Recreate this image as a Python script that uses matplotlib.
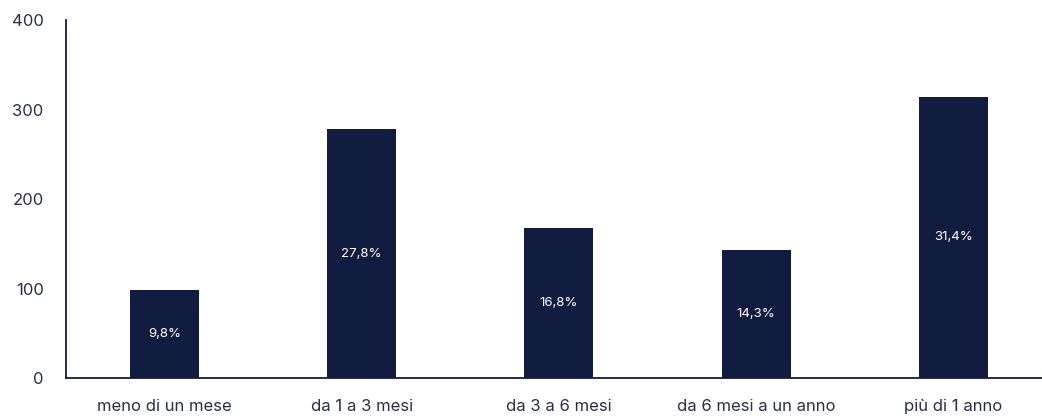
import matplotlib
matplotlib.use('Agg')
import matplotlib.pyplot as plt
import numpy as np

categories = ['meno di un mese', 'da 1 a 3 mesi', 'da 3 a 6 mesi', 'da 6 mesi a un anno', 'più di 1 anno']
values = [98, 278, 168, 143, 314]
pct_labels = ['9,8%', '27,8%', '16,8%', '14,3%', '31,4%']

navy = '#121c41'
text_col = '#2b2f48'

plt.rcParams['font.family'] = ['Inter', 'DejaVu Sans']

fig = plt.figure(figsize=(10.42, 4.17), dpi=100)
ax = fig.add_axes([0.0633, 0.0935, 0.9367, 0.8585])

x = np.arange(len(categories))
bars = ax.bar(x, values, width=0.35, color=navy)

for b, lab in zip(bars, pct_labels):
    ax.text(b.get_x() + b.get_width() / 2, b.get_height() / 2, lab,
            ha='center', va='center', color='white', fontsize=9.5)

ax.set_xlim(-0.5, 4.45)
ax.set_ylim(0, 400)
ax.set_yticks([0, 100, 200, 300, 400])
ax.set_xticks(x)
ax.set_xticklabels(categories)

ax.spines['top'].set_visible(False)
ax.spines['right'].set_visible(False)
for s in ['left', 'bottom']:
    ax.spines[s].set_color(navy)
    ax.spines[s].set_linewidth(1.3)

ax.tick_params(axis='y', length=0, pad=16, labelsize=12, labelcolor=text_col)
ax.tick_params(axis='x', length=0, pad=15, labelsize=12, labelcolor=text_col)

fig.savefig('out.png', dpi=100)
